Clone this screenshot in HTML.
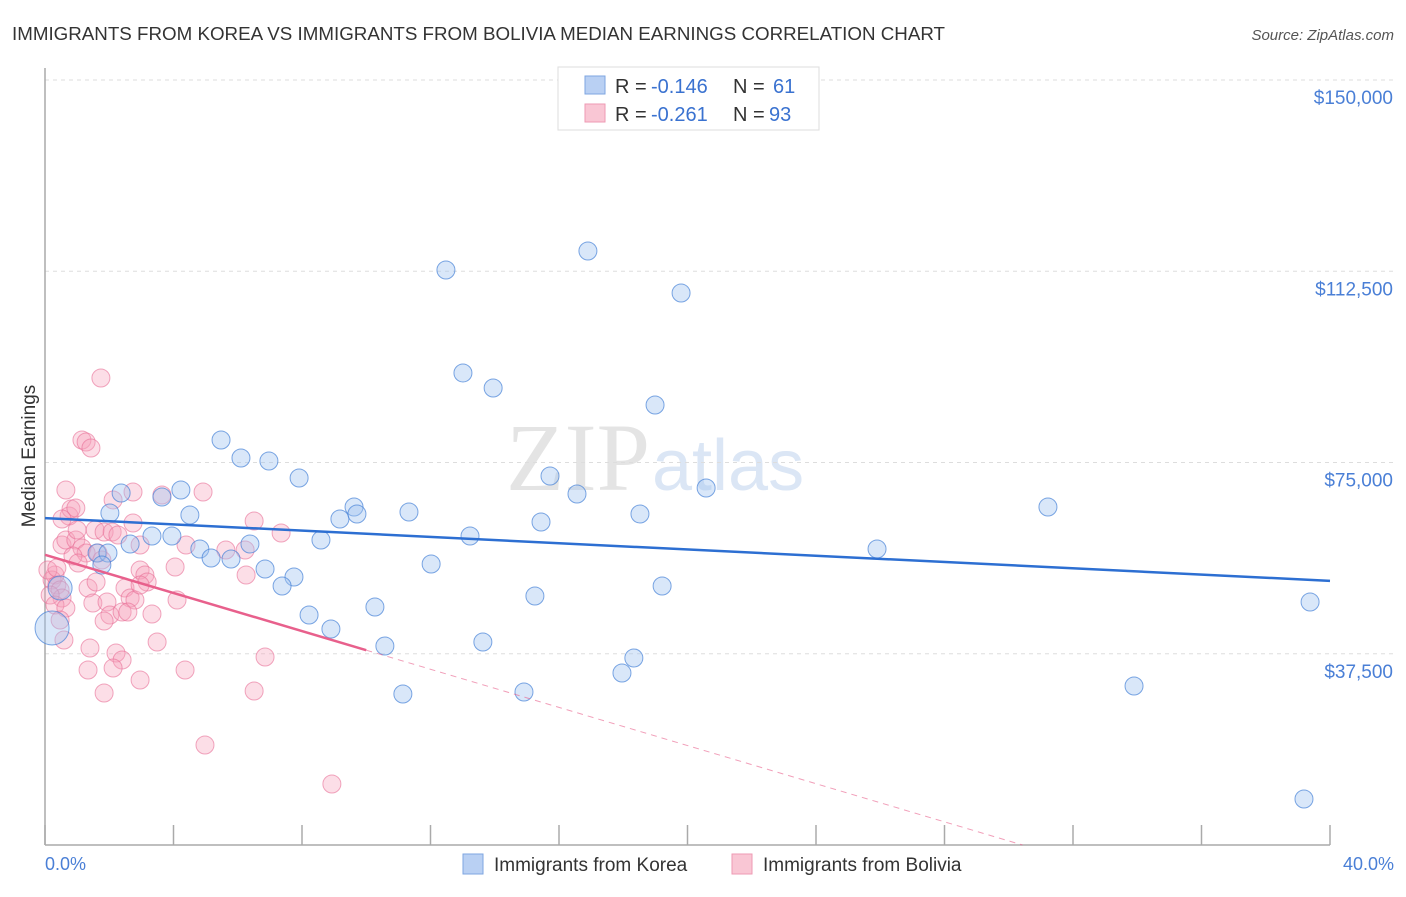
<!DOCTYPE html>
<html><head><meta charset="utf-8"><style>
body{margin:0;background:#fff;font-family:"Liberation Sans",sans-serif}
</style></head><body>
<svg width="1406" height="892" viewBox="0 0 1406 892" xmlns="http://www.w3.org/2000/svg">
<text x="12" y="40" font-size="18" fill="#333" textLength="933" lengthAdjust="spacingAndGlyphs">IMMIGRANTS FROM KOREA VS IMMIGRANTS FROM BOLIVIA MEDIAN EARNINGS CORRELATION CHART</text>
<text x="1394" y="40" font-size="15" fill="#555" font-style="italic" text-anchor="end">Source: ZipAtlas.com</text>
<text x="650" y="490" font-size="96" fill="#e4e4e4" font-family="Liberation Serif" text-anchor="end">ZIP</text>
<text x="652" y="490" font-size="72" fill="#dbe6f5">atlas</text>
<g id="grid"></g>
<line x1="45" y1="68" x2="45" y2="845" stroke="#aaa" stroke-width="1.5"/>
<line x1="45" y1="845" x2="1330" y2="845" stroke="#aaa" stroke-width="1.5"/>
<g id="xticks"></g>
<text x="35" y="456" font-size="19" fill="#333" text-anchor="middle" transform="rotate(-90 35 456)">Median Earnings</text>
<text x="45" y="870" font-size="18" fill="#4a7fd6">0.0%</text>
<text x="1394" y="870" font-size="18" fill="#4a7fd6" text-anchor="end">40.0%</text>
<g id="pts"></g>
<g id="lines"></g>
<g>
<rect x="558" y="67" width="261" height="63" fill="#fff" stroke="#ddd"/>
<rect x="585" y="76" width="20" height="18" fill="#b9d0f3" stroke="#7ea6e0"/>
<rect x="585" y="104" width="20" height="18" fill="#f9c6d4" stroke="#ee9ab3"/>
<text x="615" y="93" font-size="20" fill="#333">R =</text>
<text x="651" y="93" font-size="20" fill="#3a72d0">-0.146</text>
<text x="733" y="93" font-size="20" fill="#333">N =</text>
<text x="773" y="93" font-size="20" fill="#3a72d0">61</text>
<text x="615" y="121" font-size="20" fill="#333">R =</text>
<text x="651" y="121" font-size="20" fill="#3a72d0">-0.261</text>
<text x="733" y="121" font-size="20" fill="#333">N =</text>
<text x="769" y="121" font-size="20" fill="#3a72d0">93</text>
</g>
<g>
<rect x="463" y="854" width="20" height="20" fill="#b9d0f3" stroke="#7ea6e0"/>
<text x="494" y="871" font-size="19" fill="#333">Immigrants from Korea</text>
<rect x="732" y="854" width="20" height="20" fill="#f9c6d4" stroke="#ee9ab3"/>
<text x="763" y="871" font-size="19" fill="#333">Immigrants from Bolivia</text>
</g>
</svg>
<script>
const yTicks=[37500,75000,112500,150000];
const yTickLabels=["$37,500","$75,000","$112,500","$150,000"];
const xTicks=[0,4,8,12,16,20,24,28,32,36,40];
const koreaPx=[[446,270],[588,251],[681,293],[463,373],[493,388],[655,405],[221,440],[241,458],[269,461],[299,478],[550,476],[577,494],[706,488],[1048,507],[181,490],[121,493],[162,497],[110,513],[190,515],[354,507],[340,519],[357,514],[409,512],[541,522],[640,514],[470,536],[152,536],[172,536],[130,544],[200,549],[250,544],[321,540],[877,549],[97,553],[108,553],[211,558],[231,559],[102,565],[265,569],[294,577],[282,586],[431,564],[662,586],[535,596],[375,607],[309,615],[331,629],[483,642],[1310,602],[385,646],[634,658],[622,673],[524,692],[403,694],[1134,686],[1304,799],[60,588],[52,628]];
const koreaX=koreaPx.map(p=>+((p[0]-45)/32.125).toFixed(2));
const koreaY=koreaPx.map(p=>Math.round((845-p[1])*196.08));
const boliviaPx=[[101,378],[82,440],[86,442],[91,448],[66,490],[69,516],[71,509],[76,508],[113,500],[133,492],[162,495],[203,492],[254,521],[281,533],[62,545],[66,540],[76,540],[82,548],[86,553],[62,519],[77,530],[95,530],[104,532],[112,532],[118,535],[133,523],[140,545],[186,545],[226,550],[245,550],[73,556],[78,563],[98,553],[102,560],[88,588],[96,582],[55,575],[52,580],[57,585],[60,590],[62,598],[50,595],[55,605],[66,608],[93,603],[107,602],[110,615],[125,588],[130,598],[135,600],[140,570],[145,575],[147,582],[175,567],[177,600],[122,612],[128,612],[152,614],[246,575],[104,621],[90,648],[116,653],[122,660],[113,668],[157,642],[88,670],[185,670],[140,680],[104,693],[254,691],[265,657],[205,745],[332,784],[60,620],[64,640],[140,585],[48,570],[57,568]];
const boliviaX=boliviaPx.map(p=>+((p[0]-45)/32.125).toFixed(2));
const boliviaY=boliviaPx.map(p=>Math.round((845-p[1])*196.08));
const koreaTrend=[64100,51800];
const boliviaTrend=[56900,38200];
const boliviaTrendEndX=10;
const X=p=>45+p/40*1285, Y=v=>845-v/150000*765;
const NS="http://www.w3.org/2000/svg";
function mk(t,a,parent){const e=document.createElementNS(NS,t);for(const k in a)e.setAttribute(k,a[k]);document.getElementById(parent).appendChild(e);return e;}
yTicks.forEach((v,i)=>{
 const l=mk('line',{x1:45,x2:1394,y1:Y(v),y2:Y(v),stroke:'#ddd','stroke-dasharray':'4,4'},'grid');
 
 
 const t=mk('text',{x:1393,y:Y(v)+24,'font-size':19,fill:'#4a7fd6','text-anchor':'end'},'grid');
 t.textContent=yTickLabels[i];
 
 
});
mk('line',{x1:45,x2:1394,y1:80,y2:80,stroke:'#ddd','stroke-dasharray':'4,4'},'grid');
xTicks.forEach(p=>{
 const l=mk('line',{x1:X(p),x2:X(p),y1:825,y2:845,stroke:'#aaa','stroke-width':1.5},'xticks');
 
 
});
boliviaX.forEach((x,i)=>{
 const c=mk('circle',{cx:X(x),cy:Y(boliviaY[i]),r:9,fill:'rgba(246,160,185,0.35)',stroke:'rgba(232,110,150,0.6)','stroke-width':1},'pts');
 
 
});
koreaX.forEach((x,i)=>{
 const c=mk('circle',{cx:X(x),cy:Y(koreaY[i]),r:i>=koreaX.length-1?17:(i==koreaX.length-2?12:9),fill:'rgba(160,195,240,0.4)',stroke:'rgba(70,130,215,0.7)','stroke-width':1},'pts');
 
 
});
let l=mk('line',{x1:X(0),y1:Y(koreaTrend[0]),x2:X(40),y2:Y(koreaTrend[1]),stroke:'#2d6fd2','stroke-width':2.5},'lines');


const slope=(boliviaTrend[1]-boliviaTrend[0])/boliviaTrendEndX;
const zeroX=-boliviaTrend[0]/slope;
l=mk('line',{x1:X(0),y1:Y(boliviaTrend[0]),x2:X(boliviaTrendEndX),y2:Y(boliviaTrend[1]),stroke:'#e8608c','stroke-width':2.5},'lines');


l=mk('line',{x1:X(boliviaTrendEndX),y1:Y(boliviaTrend[1]),x2:X(zeroX),y2:Y(0),stroke:'#e8608c','stroke-width':1,'stroke-dasharray':'6,5',opacity:0.6},'lines');


</script>
</body></html>
